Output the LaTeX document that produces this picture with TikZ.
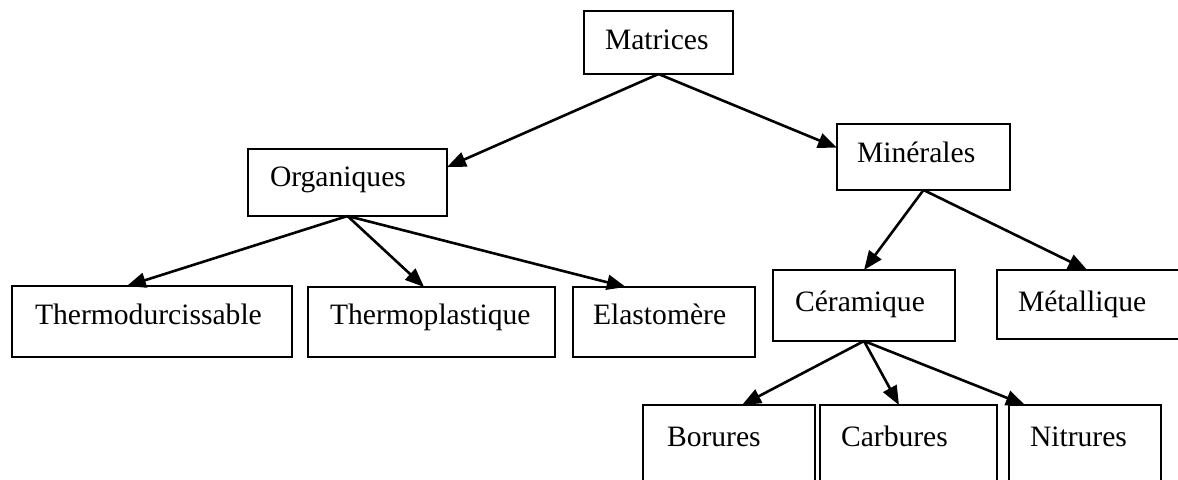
\documentclass[tikz,border=0pt]{standalone}
\usepackage{fontspec}
\setmainfont{Liberation Serif}
\usetikzlibrary{arrows.meta,calc}
\begin{document}
\begin{tikzpicture}[x=0.5pt,y=-0.5pt,
  box/.style={draw=black,line width=1.4pt,rectangle,inner sep=0pt,outer sep=0pt},
  lbl/.style={anchor=base west,inner sep=0pt,outer sep=0pt,font=\fontsize{14.8}{17}\selectfont},
  arr/.style={draw=black,line width=1.3pt,-{Triangle[length=9.5pt,width=7.5pt]}}]
\useasboundingbox (0,0) rectangle (1178,479);
\clip (0,0) rectangle (1178,479);
\fill[white] (0,0) rectangle (1178,479);
% boxes
\node[box,minimum width=74.5pt,minimum height=31.5pt] (mat) at (658.5,42.5) {};
\node[box,minimum width=99.5pt,minimum height=33.5pt] (org) at (347.5,182.5) {};
\node[box,minimum width=86.5pt,minimum height=33pt] (min) at (923.5,157) {};
\node[box,minimum width=140pt,minimum height=35.5pt] (td) at (152,321.5) {};
\node[box,minimum width=123.5pt,minimum height=35pt] (tp) at (431.5,322) {};
\node[box,minimum width=91pt,minimum height=35pt] (el) at (664,322) {};
\node[box,minimum width=91pt,minimum height=35.5pt] (cer) at (864,305.5) {};
\node[box,minimum width=94pt,minimum height=34.5pt] (met) at (1091,304.5) {};
\node[box,minimum width=86pt,minimum height=40pt] (bor) at (729,445) {};
\node[box,minimum width=88.5pt,minimum height=40pt] (car) at (908.5,445) {};
\node[box,minimum width=76pt,minimum height=40pt] (nit) at (1085,445) {};
% labels
\node[lbl] (tmat) at (605,49) {Matrices};
\node[lbl] (torg) at (270,186) {Organiques};
\node[lbl] (tmin) at (857,162) {Minérales};
\node[lbl] (ttd) at (35,324) {Thermodurcissable};
\node[lbl] (ttp) at (330,324) {Thermoplastique};
\node[lbl] (tel) at (593,324) {Elastomère};
\node[lbl] (tcer) at (795,311) {Céramique};
\node[lbl] (tmet) at (1018,311) {Métallique};
\node[lbl] (tbor) at (667,446) {Borures};
\node[lbl] (tcar) at (841,446) {Carbures};
\node[lbl] (tnit) at (1030,446) {Nitrures};
% connectors
\draw[arr] (mat.south) -- ($(org.north east)!0.27!(org.south east)$);
\draw[arr] (mat.south) -- ($(min.north west)!0.36!(min.south west)$);
\draw[arr] (org.south) -- ($(td.north west)!0.41!(td.north east)$);
\draw[arr] (org.south) -- ($(tp.north west)!0.47!(tp.north east)$);
\draw[arr] (org.south) -- ($(el.north west)!0.29!(el.north east)$);
\draw[arr] (min.south) -- (cer.north);
\draw[arr] (min.south) -- ($(met.north west)!0.48!(met.north east)$);
\draw[arr] (cer.south) -- ($(bor.north west)!0.576!(bor.north east)$);
\draw[arr] (cer.south) -- ($(car.north west)!0.446!(car.north east)$);
\draw[arr] (cer.south) -- ($(nit.north west)!0.105!(nit.north east)$);
\end{tikzpicture}
\end{document}
